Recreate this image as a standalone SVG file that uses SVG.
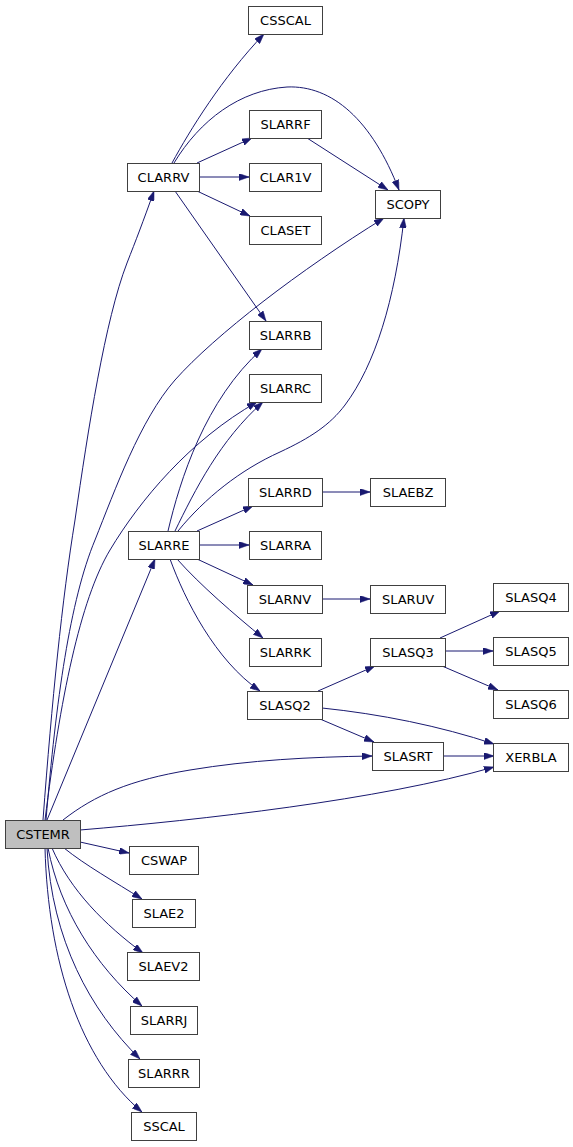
<svg xmlns="http://www.w3.org/2000/svg" width="573" height="1147" viewBox="0 0 573 1147">
<style>
.n rect{fill:#ffffff;stroke:#404040;stroke-width:1}
.n text{font-family:"DejaVu Sans",sans-serif;font-size:13px;fill:#000000;text-anchor:middle}
#CSTEMR rect{fill:#bfbfbf}
.e path{fill:none;stroke:#191970;stroke-width:1;marker-end:url(#a)}
</style>
<defs>
<marker id="a" markerUnits="userSpaceOnUse" markerWidth="10" markerHeight="7" refX="10" refY="3.5" orient="auto" viewBox="0 0 10 7"><path d="M0,0L10,3.5L0,7z" fill="#191970" stroke="#191970" stroke-width="0.5"/></marker>
</defs>
<rect width="573" height="1147" fill="#ffffff"/>
<g class="e" id="edges">
<path d="M172,163 C190,130 222,78 264,34"/>
<path d="M174,163 C200,120 240,90 287,87 C332,85 372,120 399,190"/>
<path d="M197,163 L252,138"/>
<path d="M200,177 L249,177"/>
<path d="M197,191 L250,216"/>
<path d="M175,191 L266,321"/>
<path d="M307,138 L388,190"/>
<path d="M168,531 C180,480 205,400 262,349"/>
<path d="M175,531 C195,490 220,440 263,402"/>
<path d="M178,531 C205,498 240,470 280,452 C310,438 330,425 345,405 C375,365 395,300 404,218"/>
<path d="M197,531 L253,506"/>
<path d="M199,545 L249,545"/>
<path d="M197,559 L253,585"/>
<path d="M177,559 C200,585 235,615 263,638"/>
<path d="M170,559 C185,600 215,660 260,691"/>
<path d="M322,492 L370,492"/>
<path d="M322,599 L370,599"/>
<path d="M318,691 L375,666"/>
<path d="M322,708 C380,714 440,726 494,744"/>
<path d="M320,719 L374,742"/>
<path d="M440,638 L500,611"/>
<path d="M445,651 L493,651"/>
<path d="M442,666 L498,690"/>
<path d="M443,756 L494,756"/>
<path d="M43,820 C52,700 62,600 75,520 C88,430 105,320 127,263 C136,240 143,222 154,191"/>
<path d="M46,820 C56,700 70,600 95,540 C115,490 140,420 175,380 C215,335 300,270 384,218"/>
<path d="M45,820 C60,700 80,600 110,550 C140,500 190,440 257,402"/>
<path d="M47,820 L155,559"/>
<path d="M63,820 C95,795 130,780 190,770 C250,760 310,757 372,756"/>
<path d="M80,830 C200,820 380,800 494,767"/>
<path d="M80,842 L129,853"/>
<path d="M64,848 C85,865 115,882 142,899"/>
<path d="M52,848 C70,890 105,925 143,953"/>
<path d="M48,848 C60,910 95,965 142,1006"/>
<path d="M47,848 C52,940 90,1010 140,1059"/>
<path d="M45,848 C48,960 80,1060 142,1112"/>
</g>
<g class="n" id="CSSCAL"><rect x="248.5" y="6.5" width="74" height="28"/><text x="285.5" y="25">CSSCAL</text></g>
<g class="n" id="SLARRF"><rect x="249.5" y="110.5" width="72" height="28"/><text x="285.5" y="129">SLARRF</text></g>
<g class="n" id="CLARRV"><rect x="127.5" y="163.5" width="72" height="28"/><text x="163.5" y="182">CLARRV</text></g>
<g class="n" id="CLAR1V"><rect x="249.5" y="163.5" width="72" height="28"/><text x="285.5" y="182">CLAR1V</text></g>
<g class="n" id="CLASET"><rect x="249.5" y="216.5" width="72" height="28"/><text x="285.5" y="235">CLASET</text></g>
<g class="n" id="SCOPY"><rect x="375.5" y="190.5" width="65" height="28"/><text x="408" y="209">SCOPY</text></g>
<g class="n" id="SLARRB"><rect x="249.5" y="321.5" width="72" height="28"/><text x="285.5" y="340">SLARRB</text></g>
<g class="n" id="SLARRC"><rect x="249.5" y="374.5" width="72" height="28"/><text x="285.5" y="393">SLARRC</text></g>
<g class="n" id="SLARRD"><rect x="248.5" y="478.5" width="74" height="28"/><text x="285.5" y="497">SLARRD</text></g>
<g class="n" id="SLAEBZ"><rect x="370.5" y="478.5" width="75" height="28"/><text x="408" y="497">SLAEBZ</text></g>
<g class="n" id="SLARRE"><rect x="128.5" y="531.5" width="71" height="28"/><text x="164" y="550">SLARRE</text></g>
<g class="n" id="SLARRA"><rect x="249.5" y="531.5" width="72" height="28"/><text x="285.5" y="550">SLARRA</text></g>
<g class="n" id="SLARNV"><rect x="247.5" y="585.5" width="75" height="28"/><text x="285" y="604">SLARNV</text></g>
<g class="n" id="SLARUV"><rect x="370.5" y="585.5" width="75" height="28"/><text x="408" y="604">SLARUV</text></g>
<g class="n" id="SLASQ4"><rect x="493.5" y="583.5" width="75" height="28"/><text x="531" y="602">SLASQ4</text></g>
<g class="n" id="SLARRK"><rect x="249.5" y="638.5" width="72" height="28"/><text x="285.5" y="657">SLARRK</text></g>
<g class="n" id="SLASQ3"><rect x="370.5" y="638.5" width="75" height="28"/><text x="408" y="657">SLASQ3</text></g>
<g class="n" id="SLASQ5"><rect x="493.5" y="637.5" width="75" height="28"/><text x="531" y="656">SLASQ5</text></g>
<g class="n" id="SLASQ2"><rect x="247.5" y="691.5" width="75" height="28"/><text x="285" y="710">SLASQ2</text></g>
<g class="n" id="SLASQ6"><rect x="493.5" y="690.5" width="75" height="28"/><text x="531" y="709">SLASQ6</text></g>
<g class="n" id="SLASRT"><rect x="372.5" y="742.5" width="71" height="28"/><text x="408" y="761">SLASRT</text></g>
<g class="n" id="XERBLA"><rect x="493.5" y="743.5" width="75" height="28"/><text x="531" y="762">XERBLA</text></g>
<g class="n" id="CSTEMR"><rect x="5.5" y="820.5" width="75" height="28"/><text x="43" y="839">CSTEMR</text></g>
<g class="n" id="CSWAP"><rect x="129.5" y="846.5" width="69" height="28"/><text x="164" y="865">CSWAP</text></g>
<g class="n" id="SLAE2"><rect x="132.5" y="899.5" width="63" height="28"/><text x="164" y="918">SLAE2</text></g>
<g class="n" id="SLAEV2"><rect x="127.5" y="952.5" width="72" height="28"/><text x="163.5" y="971">SLAEV2</text></g>
<g class="n" id="SLARRJ"><rect x="130.5" y="1006.5" width="67" height="28"/><text x="164" y="1025">SLARRJ</text></g>
<g class="n" id="SLARRR"><rect x="128.5" y="1059.5" width="71" height="28"/><text x="164" y="1078">SLARRR</text></g>
<g class="n" id="SSCAL"><rect x="131.5" y="1112.5" width="65" height="28"/><text x="164" y="1131">SSCAL</text></g>
</svg>
